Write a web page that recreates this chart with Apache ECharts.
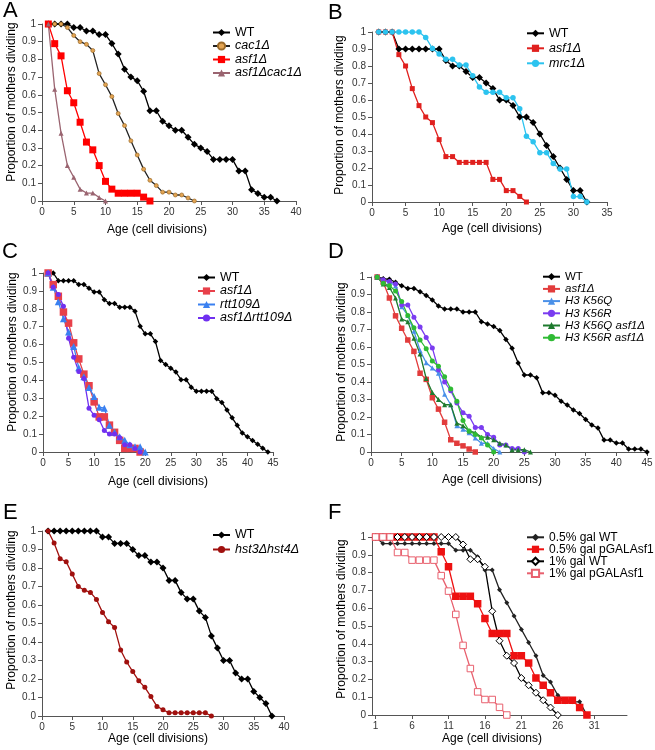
<!DOCTYPE html>
<html><head><meta charset="utf-8">
<script src="https://cdn.jsdelivr.net/npm/echarts@6/dist/echarts.min.js"></script>
<style>html,body{margin:0;padding:0;background:#fff}#c{width:655px;height:750px}</style>
</head><body><div id="c"></div>
<script>
// ---------- DATA (proportion of mothers dividing at each age, ages start at 1) ----------
const yTicks = [0,0.1,0.2,0.3,0.4,0.5,0.6,0.7,0.8,0.9,1];
// Panel A
const A_WT = [1,1,1,1,0.98,0.98,0.96,0.96,0.94,0.94,0.89,0.83,0.745,0.70,0.68,0.62,0.51,0.51,0.45,0.425,0.40,0.40,0.36,0.32,0.30,0.28,0.235,0.235,0.235,0.235,0.17,0.17,0.064,0.043,0.021,0.021,0];
const A_cac1 = [1,1,1,0.98,0.935,0.90,0.885,0.85,0.72,0.657,0.59,0.494,0.426,0.34,0.26,0.18,0.117,0.087,0.05,0.05,0.034,0.034,0.017,0];
const A_asf1 = [1,0.889,0.82,0.623,0.555,0.445,0.333,0.289,0.2,0.111,0.067,0.044,0.044,0.044,0.044,0.022,0];
const A_asf1cac1 = [1,0.632,0.383,0.2,0.134,0.067,0.045,0.045,0.02,0];
// Panel B
const B_WT = [1,1,1,0.9,0.9,0.9,0.9,0.9,0.9,0.9,0.833,0.8,0.8,0.767,0.733,0.733,0.7,0.667,0.6,0.6,0.567,0.5,0.5,0.467,0.4,0.333,0.267,0.2,0.133,0.067,0.067,0];
const B_asf1 = [1,1,1,0.867,0.8,0.667,0.567,0.5,0.467,0.367,0.267,0.267,0.233,0.233,0.233,0.233,0.233,0.133,0.133,0.067,0.067,0.033,0];
const B_mrc1 = [1,1,1,1,1,1,1,0.968,0.903,0.871,0.839,0.839,0.806,0.806,0.742,0.677,0.645,0.645,0.645,0.613,0.613,0.548,0.387,0.355,0.29,0.29,0.226,0.194,0.194,0.032,0.032,0];
// Panel C
const C_WT = [1,1,0.957,0.957,0.957,0.957,0.936,0.936,0.915,0.894,0.894,0.851,0.83,0.83,0.809,0.809,0.809,0.787,0.702,0.66,0.66,0.617,0.511,0.489,0.468,0.447,0.404,0.404,0.362,0.34,0.34,0.34,0.34,0.298,0.277,0.234,0.191,0.149,0.106,0.085,0.064,0.043,0.021,0];
const C_asf1 = [1,0.935,0.87,0.782,0.72,0.61,0.52,0.435,0.37,0.28,0.196,0.196,0.15,0.11,0.065,0.02,0.02,0.02,0];
const C_rtt109 = [1,0.92,0.84,0.745,0.67,0.59,0.47,0.42,0.36,0.31,0.25,0.245,0.15,0.11,0.085,0.065,0.04,0.03,0.03,0];
const C_asf1rtt109 = [1,0.92,0.88,0.814,0.635,0.53,0.45,0.41,0.245,0.205,0.18,0.12,0.1,0.1,0.08,0.04,0.04,0.02,0];
// Panel D
const D_WT = [1,0.99,0.987,0.97,0.95,0.935,0.935,0.916,0.895,0.869,0.834,0.817,0.817,0.817,0.8,0.8,0.8,0.745,0.732,0.717,0.694,0.643,0.593,0.508,0.44,0.44,0.424,0.338,0.338,0.325,0.29,0.268,0.24,0.22,0.186,0.154,0.137,0.068,0.068,0.051,0.051,0.017,0.017,0.017,0];
const D_asf1 = [1,0.97,0.88,0.778,0.707,0.64,0.575,0.45,0.415,0.31,0.245,0.17,0.07,0.05,0.035,0.017,0];
const D_K56Q = [1,0.98,0.97,0.95,0.83,0.78,0.69,0.58,0.51,0.48,0.45,0.33,0.27,0.15,0.13,0.11,0.08,0.05,0.05,0.02,0];
const D_K56R = [1,0.985,0.975,0.96,0.84,0.84,0.77,0.715,0.655,0.595,0.47,0.40,0.35,0.28,0.225,0.205,0.14,0.14,0.10,0.085,0.04,0.04,0.02,0.02,0];
const D_K56Qasf1 = [1,0.96,0.94,0.88,0.76,0.745,0.65,0.56,0.42,0.34,0.30,0.27,0.27,0.165,0.15,0.12,0.11,0.085,0.085,0.07,0.05,0.04,0.013,0.013,0.013,0];
const D_K56Rasf1 = [1,0.965,0.95,0.92,0.86,0.78,0.71,0.64,0.59,0.52,0.49,0.43,0.36,0.29,0.18,0.12,0.10,0.08,0.04,0];
// Panel E
const E_WT = [1,1,1,1,1,1,1,1,1,0.967,0.967,0.933,0.933,0.933,0.9,0.867,0.867,0.833,0.833,0.8,0.733,0.733,0.667,0.633,0.633,0.567,0.533,0.433,0.367,0.3,0.3,0.233,0.2,0.2,0.133,0.1,0.067,0];
const E_hst = [1,0.935,0.85,0.834,0.767,0.70,0.68,0.668,0.63,0.56,0.51,0.478,0.357,0.292,0.24,0.19,0.155,0.105,0.052,0.034,0.017,0.017,0.017,0.017,0.017,0.017,0.017,0];
// Panel F (category axis)
const F_ages = Array.from({length:35},(_, i)=>String(i+1));
const F_05WT = [1,0.963,0.963,0.963,0.963,0.963,0.963,0.963,0.963,0.963,0.963,0.926,0.926,0.926,0.889,0.815,0.815,0.704,0.63,0.556,0.481,0.407,0.333,0.222,0.185,0.111,0.074,0.074,0.074,0];
const F_05pGAL = [1,1,1,1,1,1,1,1,1,0.917,0.833,0.667,0.667,0.667,0.625,0.542,0.458,0.458,0.458,0.333,0.333,0.292,0.208,0.167,0.125,0.083,0.083,0.083,0.042,0];
const F_1WT = [1,1,1,1,1,1,1,1,1,1,1,1,0.958,0.875,0.875,0.833,0.583,0.417,0.333,0.292,0.208,0.167,0.125,0.083,0.042,0];
const F_1pGAL = [1,1,1,0.913,0.913,0.87,0.87,0.87,0.87,0.783,0.696,0.565,0.391,0.261,0.13,0.087,0.087,0.043,0];

// ---------- LAYOUT ----------
const FONT = '"Liberation Sans", Arial, Helvetica, sans-serif';
const AX = '#555';
const panels = [
  {k:'A', grid:{left:42,top:24,width:254,height:177}, xMax:40, letter:[3,0], yt:[12,102], xt:[157,230],
   legend:{left:212,first:32.5,sp:13.5,fs:12.5},
   series:[
    {n:'WT',it:false,d:A_WT,sym:'diamond',sz:7,fill:'#000',line:'#000'},
    {n:'cac1Δ',it:true,d:A_cac1,sym:'circle',sz:4,fill:'#e3a452',border:'#9a6a2a',bw:0.7,line:'#222'},
    {n:'asf1Δ',it:true,d:A_asf1,sym:'rect',sz:7,fill:'#ff0000',line:'#ff0000'},
    {n:'asf1Δcac1Δ',it:true,d:A_asf1cac1,sym:'triangle',sz:5,fill:'#9a6470',line:'#9a6470'}]},
  {k:'B', grid:{left:372,top:32,width:235,height:170}, xMax:35, letter:[328,2], yt:[340,115], xt:[492,229],
   legend:{left:526,first:33.3,sp:15,fs:12.5},
   series:[
    {n:'WT',it:false,d:B_WT,sym:'diamond',sz:7,fill:'#000',line:'#000'},
    {n:'asf1Δ',it:true,d:B_asf1,sym:'rect',sz:5,fill:'#e0201e',line:'#e0201e'},
    {n:'mrc1Δ',it:true,d:B_mrc1,sym:'circle',sz:5.5,fill:'#2cc3ef',line:'#2cc3ef'}]},
  {k:'C', grid:{left:43,top:273,width:230,height:179}, xMax:45, letter:[2,241], yt:[13,352], xt:[158,482],
   legend:{left:197,first:277.5,sp:13.5,fs:12.5},
   series:[
    {n:'WT',it:false,d:C_WT,sym:'diamond',sz:5.5,fill:'#000',line:'#000'},
    {n:'asf1Δ',it:true,d:C_asf1,sym:'rect',sz:7.5,fill:'#e8404a',line:'#e8404a'},
    {n:'rtt109Δ',it:true,d:C_rtt109,sym:'triangle',sz:7,fill:'#3a80f0',line:'#3a80f0'},
    {n:'asf1Δrtt109Δ',it:true,d:C_asf1rtt109,sym:'circle',sz:5,fill:'#7030f0',line:'#7030f0'}]},
  {k:'D', grid:{left:371,top:277,width:276,height:175}, xMax:45, letter:[328,241], yt:[342,362], xt:[492,480],
   legend:{left:542,first:276.7,sp:12.2,fs:11.5},
   series:[
    {n:'WT',it:false,d:D_WT,sym:'diamond',sz:5.5,fill:'#000',line:'#000'},
    {n:'asf1Δ',it:true,d:D_asf1,sym:'rect',sz:5.5,fill:'#e23c3c',line:'#e23c3c'},
    {n:'H3 K56Q',it:true,d:D_K56Q,sym:'triangle',sz:5,fill:'#4a90e8',line:'#4a90e8'},
    {n:'H3 K56R',it:true,d:D_K56R,sym:'circle',sz:5,fill:'#7a3cf0',line:'#7a3cf0'},
    {n:'H3 K56Q asf1Δ',it:true,d:D_K56Qasf1,sym:'triangle',sz:5,fill:'#1e7a2e',line:'#1e7a2e'},
    {n:'H3 K56R asf1Δ',it:true,d:D_K56Rasf1,sym:'circle',sz:5,fill:'#2fbb34',line:'#2fbb34'}]},
  {k:'E', grid:{left:42,top:531,width:242,height:185}, xMax:40, letter:[3,502], yt:[12,610], xt:[158,739],
   legend:{left:212,first:535,sp:14.5,fs:12.5},
   series:[
    {n:'WT',it:false,d:E_WT,sym:'diamond',sz:7,fill:'#000',line:'#000'},
    {n:'hst3Δhst4Δ',it:true,d:E_hst,sym:'circle',sz:5,fill:'#a0100e',line:'#a0100e'}]},
  {k:'F', grid:{left:372,top:537,width:255,height:178}, cat:true, letter:[328,502], yt:[342,619], xt:[492,739],
   legend:{left:526,first:537.3,sp:12,fs:12},
   series:[
    {n:'0.5% gal WT',it:false,d:F_05WT,sym:'diamond',sz:5,fill:'#222',line:'#222'},
    {n:'0.5% gal pGALAsf1',it:false,d:F_05pGAL,sym:'rect',sz:7.5,fill:'#ee1111',line:'#ee1111'},
    {n:'1% gal WT',it:false,d:F_1WT,sym:'diamond',sz:7,fill:'#ffffff',border:'#000',bw:1,line:'#000'},
    {n:'1% gal pGALAsf1',it:false,d:F_1pGAL,sym:'rect',sz:6.5,fill:'#ffffff',border:'#e8606e',bw:1,line:'#e8606e'}]}
];

const grids=[], xAxes=[], yAxes=[], series=[], legends=[], graphics=[];
const italicNames = new Set();
panels.forEach((p,i)=>{
  grids.push(Object.assign({containLabel:false, outerBoundsMode:'none'}, p.grid));
  const axisLine = {show:true, onZero:false, lineStyle:{color:AX,width:1}};
  const axisTick = {show:true, length:4, lineStyle:{color:AX,width:1}};
  const labelStyle = {fontSize:10, color:'#333', fontFamily:FONT};
  if (p.cat) {
    xAxes.push({type:'category', gridIndex:i, data:F_ages, boundaryGap:true, axisLine,
      axisTick:{show:true,length:4,alignWithLabel:true,interval:4,lineStyle:{color:AX,width:1}},
      axisLabel:Object.assign({interval:4, margin:6}, labelStyle), splitLine:{show:false}});
  } else {
    xAxes.push({type:'value', gridIndex:i, min:0, max:p.xMax, interval:5, axisLine, axisTick,
      axisLabel:Object.assign({margin:6}, labelStyle), splitLine:{show:false}});
  }
  yAxes.push({type:'value', gridIndex:i, min:yTicks[0], max:yTicks[yTicks.length-1], interval:0.1, axisLine, axisTick,
    axisLabel:Object.assign({margin:6, formatter:v=>String(+v.toFixed(1))}, labelStyle), splitLine:{show:false}});
  const names=[];
  p.series.forEach(s=>{
    const name = p.k+'·'+s.n;
    names.push(name);
    if (s.it) italicNames.add(name);
    series.push({
      name, type:'line', xAxisIndex:i, yAxisIndex:i,
      data: p.cat ? s.d.slice() : s.d.map((v,j)=>[j+1,v]),
      symbol:s.sym, symbolSize:s.sz, showAllSymbol:true,
      itemStyle:{color:s.fill, borderColor:s.border||s.fill, borderWidth:s.border?s.bw:0, opacity:1},
      lineStyle:{color:s.line, width:1.3},
      emphasis:{disabled:true}, animation:false, z:2
    });
  });
  const L=p.legend;
  legends.push({
    data:names, orient:'vertical', left:L.left, top:L.first-L.sp/2, itemWidth:17, itemHeight:9, itemGap:0,
    selectedMode:false, padding:0,
    formatter:name=>{const t=name.split('·')[1]; return (italicNames.has(name)?'{i|':'{n|')+t+'}';},
    textStyle:{fontSize:L.fs, color:'#000', fontFamily:FONT, lineHeight:L.sp,
      rich:{i:{fontStyle:'italic',fontSize:L.fs,fontFamily:FONT,color:'#000',lineHeight:L.sp},
            n:{fontSize:L.fs,fontFamily:FONT,color:'#000',lineHeight:L.sp}}}
  });
  graphics.push({type:'text', left:p.letter[0], top:p.letter[1], style:{text:p.k, fontSize:22, fontFamily:FONT, fill:'#000'}});
  graphics.push({type:'text', x:p.yt[0], y:p.yt[1], rotation:Math.PI/2,
    style:{text:'Proportion of mothers dividing', fontSize:12, fontFamily:FONT, fill:'#000', align:'center', verticalAlign:'middle'}});
  graphics.push({type:'text', x:p.xt[0], y:p.xt[1],
    style:{text:'Age (cell divisions)', fontSize:12, fontFamily:FONT, fill:'#000', align:'center', verticalAlign:'middle'}});
});

const chart = echarts.init(document.getElementById('c'), null, {renderer:'canvas'});
chart.setOption({
  backgroundColor:'#fff', animation:false,
  textStyle:{fontFamily:FONT},
  grid:grids, xAxis:xAxes, yAxis:yAxes, series, legend:legends, graphic:graphics
});
</script></body></html>
